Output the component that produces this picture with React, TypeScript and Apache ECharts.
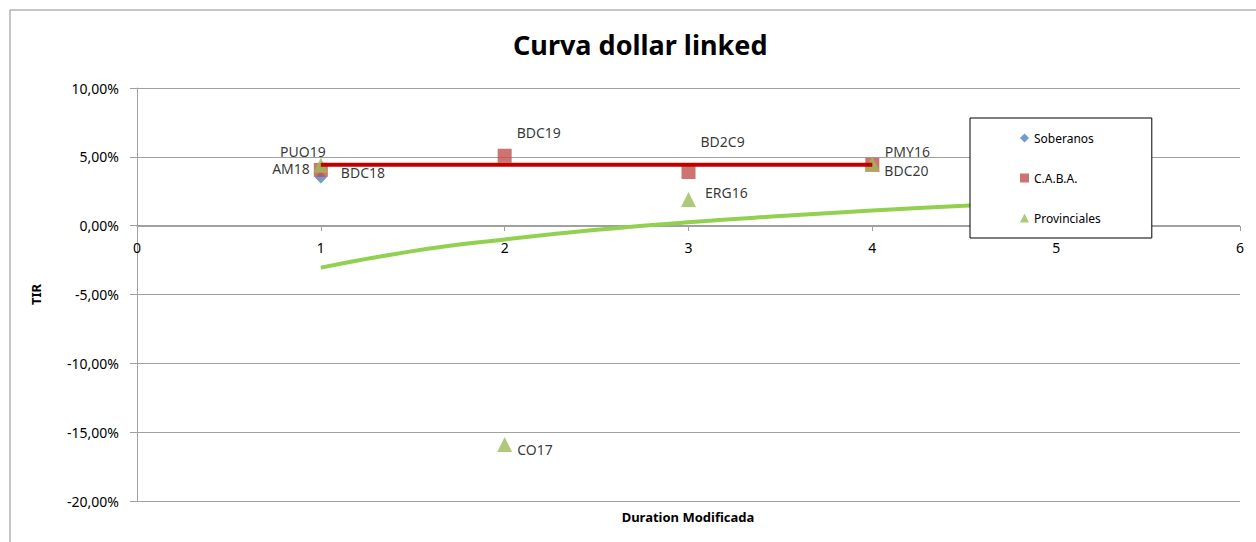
import React, { useEffect, useRef } from "react";
import * as echarts from "echarts";

const soberanos = [{ name: "AM18", x: 1, y: 3.5 }];
const caba = [
  { name: "BDC18", x: 1, y: 4.05 },
  { name: "BDC19", x: 2, y: 5.08 },
  { name: "BD2C9", x: 3, y: 3.9 },
  { name: "BDC20", x: 4, y: 4.42 },
];
const provinciales = [
  { name: "PUO19", x: 1, y: 4.38 },
  { name: "CO17", x: 2, y: -15.9 },
  { name: "ERG16", x: 3, y: 1.9 },
  { name: "PMY16", x: 4, y: 4.5 },
];
const cabaTrend = [
  [1, 4.42],
  [4, 4.42],
];
const provTrend = [
  [1, -3.05],
  [1.5, -1.85],
  [2, -1.0],
  [2.5, -0.3],
  [3, 0.25],
  [3.5, 0.7],
  [4, 1.1],
  [4.5, 1.45],
  [5, 1.78],
];
const labelPos: Record<string, { position: string; offset: number[] }> = {
  AM18: { position: "left", offset: [0, -9] },
  BDC18: { position: "right", offset: [8, 3] },
  BDC19: { position: "right", offset: [0, -23] },
  BD2C9: { position: "right", offset: [0, -30] },
  BDC20: { position: "right", offset: [0, 6] },
  PUO19: { position: "top", offset: [-18, 6] },
  CO17: { position: "right", offset: [0, 5] },
  ERG16: { position: "right", offset: [4, -7] },
  PMY16: { position: "right", offset: [0, -12] },
};

const FONT = "Noto Sans";
const GRAY = "#a0a0a0";

function pts(arr: { name: string; x: number; y: number }[]) {
  return arr.map((p) => ({
    name: p.name,
    value: [p.x, p.y],
    label: {
      show: true,
      formatter: p.name,
      position: labelPos[p.name].position,
      offset: labelPos[p.name].offset,
      color: "#000",
      fontSize: 14,
      fontFamily: FONT,
    },
  }));
}

export default function App() {
  const ref = useRef<HTMLDivElement>(null);
  useEffect(() => {
    document.body.style.margin = "0";
    const chart = echarts.init(ref.current!, null, { renderer: "svg" });
    chart.setOption({
      animation: false,
      backgroundColor: "#fff",
      title: {
        text: "Curva dollar linked",
        left: 508,
        top: 26,
        textStyle: { fontFamily: FONT, fontWeight: "bold", fontSize: 27, color: "#000" },
      },
      graphic: [
        {
          type: "rect",
          shape: { x: 10, y: 10, width: 1400, height: 700 },
          style: { fill: "none", stroke: "#8c8c8c", lineWidth: 1 },
          silent: true,
        },
        {
          type: "text",
          x: 688,
          y: 517,
          style: {
            text: "Duration Modificada",
            fontFamily: FONT,
            fontWeight: "bold",
            fontSize: 13,
            fill: "#000",
            align: "center",
            verticalAlign: "middle",
          },
          silent: true,
        },
      ],
      legend: {
        orient: "vertical",
        left: 970,
        top: 118,
        padding: [14, 51, 14, 50],
        borderColor: "#000",
        borderWidth: 1,
        backgroundColor: "#fff",
        itemGap: 28,
        itemWidth: 9,
        itemHeight: 9,
        data: ["Soberanos", "C.A.B.A.", "Provinciales"],
        textStyle: { fontFamily: FONT, fontSize: 12, color: "#000" },
      },
      grid: [
        { left: 137, top: 88, right: 16, bottom: 41, outerBoundsMode: "none", containLabel: false },
        { left: 137, top: 88, right: 16, bottom: 316, outerBoundsMode: "none", containLabel: false },
      ],
      xAxis: [
        {
          type: "value",
          gridIndex: 0,
          min: 0,
          max: 6,
          interval: 1,
          axisLine: { show: false },
          axisTick: { show: false },
          axisLabel: { show: false },
          splitLine: { show: false },
        },
        {
          type: "value",
          gridIndex: 1,
          min: 0,
          max: 6,
          interval: 1,
          position: "bottom",
          axisLine: { show: true, onZero: false, lineStyle: { color: GRAY } },
          axisTick: { show: true, length: 5, lineStyle: { color: GRAY } },
          axisLabel: { margin: 14, fontFamily: FONT, fontSize: 14, color: "#000" },
          splitLine: { show: false },
        },
      ],
      yAxis: [
        {
          type: "value",
          gridIndex: 0,
          min: -20,
          max: 10,
          interval: 5,
          name: "TIR",
          nameLocation: "middle",
          nameGap: 95,
          nameRotate: 90,
          nameTextStyle: { fontFamily: FONT, fontWeight: "bold", fontSize: 13, color: "#000" },
          axisLine: { show: true, onZero: false, lineStyle: { color: GRAY } },
          axisTick: { show: true, length: 7, lineStyle: { color: GRAY } },
          axisLabel: {
            margin: 18,
            fontFamily: FONT,
            fontSize: 14,
            color: "#000",
            formatter: (v: number) => v.toFixed(2).replace(".", ",") + "%",
          },
          splitLine: { show: true, lineStyle: { color: GRAY, width: 1 } },
        },
        {
          type: "value",
          gridIndex: 1,
          min: 0,
          max: 1,
          show: false,
        },
      ],
      series: [
        {
          name: "Soberanos",
          type: "scatter",
          symbol: "diamond",
          symbolSize: 12,
          itemStyle: { color: "#4f81bd" },
          data: pts(soberanos),
        },
        {
          name: "C.A.B.A.",
          type: "scatter",
          symbol: "rect",
          symbolSize: 14,
          itemStyle: { color: "#c0504d" },
          data: pts(caba),
        },
        {
          name: "Provinciales",
          type: "scatter",
          symbol: "triangle",
          symbolSize: 15,
          itemStyle: { color: "#9bbb59" },
          data: pts(provinciales),
        },
        {
          name: "Tendencia C.A.B.A.",
          type: "line",
          showSymbol: false,
          symbol: "none",
          lineStyle: { color: "#c00000", width: 4 },
          data: cabaTrend,
          z: 3,
        },
        {
          name: "Tendencia Provinciales",
          type: "line",
          showSymbol: false,
          symbol: "none",
          smooth: true,
          lineStyle: { color: "#92d050", width: 4 },
          data: provTrend,
          z: 3,
        },
      ],
    });
    return () => chart.dispose();
  }, []);
  return <div ref={ref} style={{ width: 1256, height: 542 }} />;
}
